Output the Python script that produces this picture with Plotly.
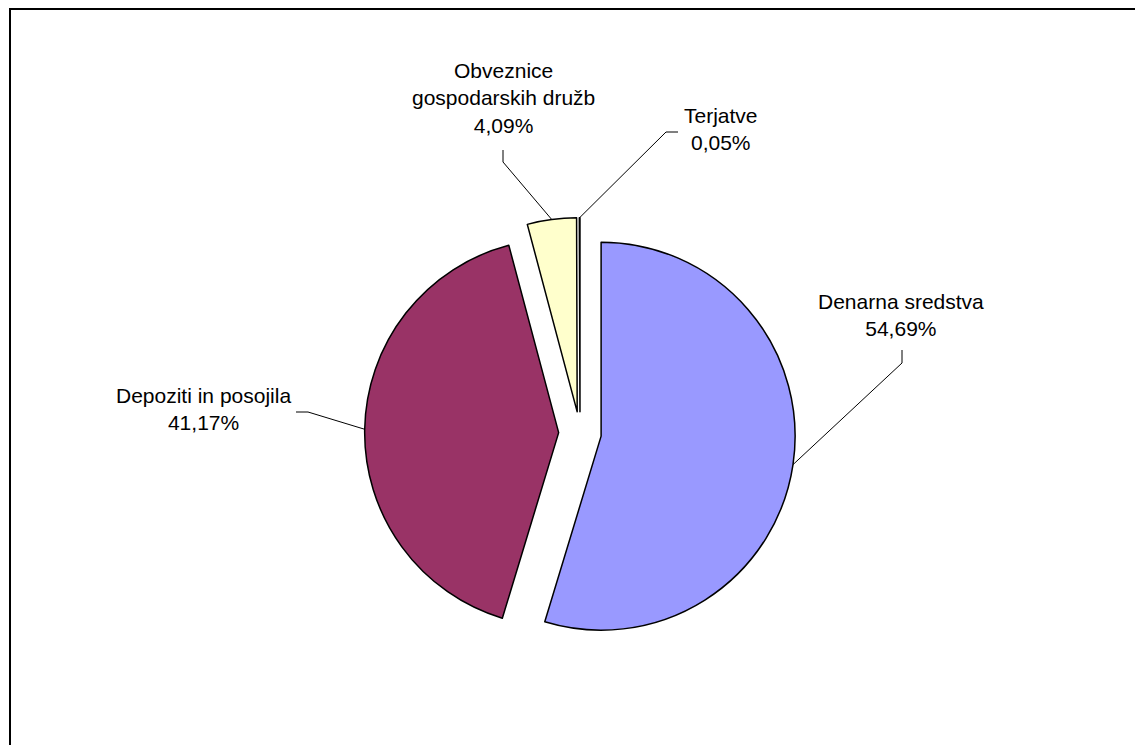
import math
import plotly.graph_objects as go

# data
labels = ["Denarna sredstva", "Depoziti in posojila", "Obveznice<br>gospodarskih družb", "Terjatve"]
values = [54.69, 41.17, 4.09, 0.05]
colors = ["#9999FF", "#993366", "#FFFFCC", "#CCFFFF"]

# label placement (page pixels): text centre, leader start, leader bend
text_pos = [(901, 315), (203, 409), (503, 98), (721, 129)]
lead_start = [(902, 350), (296, 412), (503, 150), (678, 132)]
lead_bend = [(902, 363), (308, 412), (503, 162), (666, 132)]

# figure / page geometry (body has an 8px default margin)
W, H = 1135, 737
OFF = 8
PULL = 0.11
R = 194           # pie radius in px
CX, CY = 580, 433  # pie centre on the page


def px(x):
    return (x - OFF) / W


def py(y):
    return 1 - (y - OFF) / H


# domain so that plotly's radius comes out at R
half = R * (1 + PULL)
dom_y = [py(CY + half), py(CY - half)]
dom_x = [px(CX - half - 60), px(CX + half + 60)]

fig = go.Figure(go.Pie(
    labels=labels,
    values=values,
    sort=False,
    direction="clockwise",
    rotation=0,
    pull=[PULL] * len(values),
    marker=dict(colors=colors, line=dict(color="black", width=1.5)),
    textinfo="none",
    hoverinfo="label+percent",
    domain=dict(x=dom_x, y=dom_y),
    showlegend=False,
))

# leader lines: end on the slice edge at the mid angle
total = sum(values)
shapes = []
cum = 0
for i, v in enumerate(values):
    mid = (cum + v / 2) / total * 2 * math.pi
    cum += v
    ex = CX + R * (1 + PULL) * math.sin(mid)
    ey = CY - R * (1 + PULL) * math.cos(mid)
    (sx, sy), (bx, by) = lead_start[i], lead_bend[i]
    path = f"M {px(sx)} {py(sy)} L {px(bx)} {py(by)} L {px(ex)} {py(ey)}"
    shapes.append(dict(type="path", xref="paper", yref="paper", path=path,
                       line=dict(color="black", width=1)))

# chart-area border (runs off the page on the right and bottom)
shapes.append(dict(type="rect", xref="paper", yref="paper",
                   x0=px(10), y0=py(9), x1=1.05, y1=-0.05,
                   line=dict(color="black", width=2)))

annotations = []
for i, lab in enumerate(labels):
    pct = f"{values[i]:.2f}%".replace(".", ",")
    tx, ty = text_pos[i]
    annotations.append(dict(
        x=px(tx), y=py(ty), xref="paper", yref="paper",
        text=f"{lab}<br>{pct}", showarrow=False,
        xanchor="center", yanchor="middle", align="center",
        font=dict(family="Liberation Sans, Arial, sans-serif", size=21, color="black"),
    ))

fig.update_layout(
    width=W, height=H,
    margin=dict(l=0, r=0, t=0, b=0),
    paper_bgcolor="white",
    plot_bgcolor="white",
    shapes=shapes,
    annotations=annotations,
)

fig.write_html("out.html")
